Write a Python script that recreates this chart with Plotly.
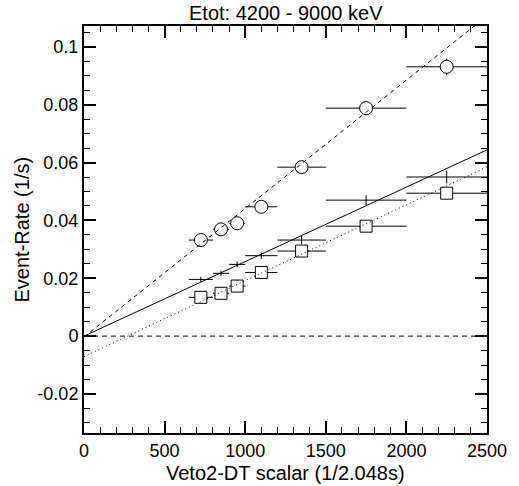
import plotly.graph_objects as go

# Bin centres and half-widths of the Veto2-DT scalar bins
x_centres = [725, 850, 950, 1100, 1350, 1750, 2250]
x_halfwidth = [75, 50, 50, 100, 150, 250, 250]

# Event rates (1/s) for the three selections and their errors
rate_circles = [0.0332, 0.0369, 0.0390, 0.0447, 0.0584, 0.0788, 0.0931]
err_circles = [0.0012, 0.0013, 0.0013, 0.0015, 0.0018, 0.0022, 0.0029]
rate_crosses = [0.0196, 0.0217, 0.0248, 0.0278, 0.0332, 0.0470, 0.0550]
err_crosses = [0.0009, 0.0009, 0.0010, 0.0011, 0.0014, 0.0017, 0.0022]
rate_squares = [0.0134, 0.0148, 0.0173, 0.0220, 0.0294, 0.0380, 0.0494]
err_squares = [0.0008, 0.0008, 0.0009, 0.0010, 0.0012, 0.0015, 0.0019]

# Linear fit parameters: (intercept, slope)
fit_circles = (-0.0003, 4.44e-5)
fit_crosses = (0.0000, 2.575e-5)
fit_squares = (-0.0071, 2.624e-5)

x_range = [0, 2500]
y_range = [-0.0335, 0.1072]
x_tickvals = [0, 500, 1000, 1500, 2000, 2500]
x_ticktext = ["0", "500", "1000", "1500", "2000", "2500"]
y_tickvals = [-0.02, 0, 0.02, 0.04, 0.06, 0.08, 0.1]
y_ticktext = ["-0.02", "0", "0.02", "0.04", "0.06", "0.08", "0.1"]

title_text = "Etot: 4200 - 9000 keV"
x_title = "Veto2-DT scalar (1/2.048s)"
y_title = "Event-Rate (1/s)"

FONT = "Liberation Sans, Arial, sans-serif"

fig = go.Figure()


def err(arr):
    return dict(type="data", array=arr, symmetric=True, color="black",
                thickness=1, width=0)


# Zero reference line
fig.add_trace(go.Scatter(x=x_range, y=[0, 0], mode="lines",
                         line=dict(color="black", width=1, dash="5px,4px"),
                         hoverinfo="skip"))

# Crosses: error bars only
fig.add_trace(go.Scatter(x=x_centres, y=rate_crosses, mode="markers",
                         marker=dict(size=1, color="rgba(0,0,0,0)"),
                         error_x=err(x_halfwidth), error_y=err(err_crosses)))

# Open circles
fig.add_trace(go.Scatter(x=x_centres, y=rate_circles, mode="markers",
                         marker=dict(symbol="circle", size=13, color="white",
                                     line=dict(color="black", width=1)),
                         error_x=err(x_halfwidth), error_y=err(err_circles)))

# Open squares
fig.add_trace(go.Scatter(x=x_centres, y=rate_squares, mode="markers",
                         marker=dict(symbol="square", size=12, color="white",
                                     line=dict(color="black", width=1)),
                         error_x=err(x_halfwidth), error_y=err(err_squares)))


def fit_line(params, dash):
    b, m = params
    ys = [b + m * xv for xv in x_range]
    return go.Scatter(x=x_range, y=ys, mode="lines",
                      line=dict(color="black", width=1, dash=dash),
                      hoverinfo="skip")


fig.add_trace(fit_line(fit_circles, "4px,4px"))
fig.add_trace(fit_line(fit_crosses, "solid"))
fig.add_trace(fit_line(fit_squares, "1px,3px"))

axis_common = dict(showgrid=False, zeroline=False, showline=True,
                   linecolor="black", linewidth=2, mirror="ticks",
                   ticks="inside", ticklen=12, tickwidth=1.5,
                   tickcolor="black",
                   tickfont=dict(family=FONT, size=18, color="black"))

fig.update_xaxes(range=x_range, tickmode="array", tickvals=x_tickvals,
                 ticktext=x_ticktext,
                 minor=dict(ticks="inside", ticklen=6, tickwidth=1,
                            tickcolor="black", tickmode="linear",
                            tick0=0, dtick=100),
                 **axis_common)
fig.update_yaxes(range=y_range, tickmode="array", tickvals=y_tickvals,
                 ticktext=y_ticktext,
                 minor=dict(ticks="inside", ticklen=6, tickwidth=1,
                            tickcolor="black", tickmode="linear",
                            tick0=0, dtick=0.005),
                 **axis_common)

title_font = dict(family=FONT, size=20, color="black")

fig.update_layout(
    width=519, height=486,
    margin=dict(l=84, r=28, t=26, b=53),
    paper_bgcolor="white", plot_bgcolor="white",
    showlegend=False,
    font=dict(family=FONT, size=18, color="black"),
    annotations=[
        dict(text=title_text, xref="paper", yref="paper", x=0.5, y=1,
             xanchor="center", yanchor="middle", yshift=13,
             showarrow=False, font=title_font),
        dict(text=x_title, xref="paper", yref="paper", x=0.5, y=0,
             xanchor="center", yanchor="middle", yshift=-40,
             showarrow=False, font=title_font),
        dict(text=y_title, xref="paper", yref="paper", x=0, y=0.5,
             xanchor="center", yanchor="middle", xshift=-63,
             textangle=-90, showarrow=False, font=title_font),
    ],
)

fig.write_html("out.html")
